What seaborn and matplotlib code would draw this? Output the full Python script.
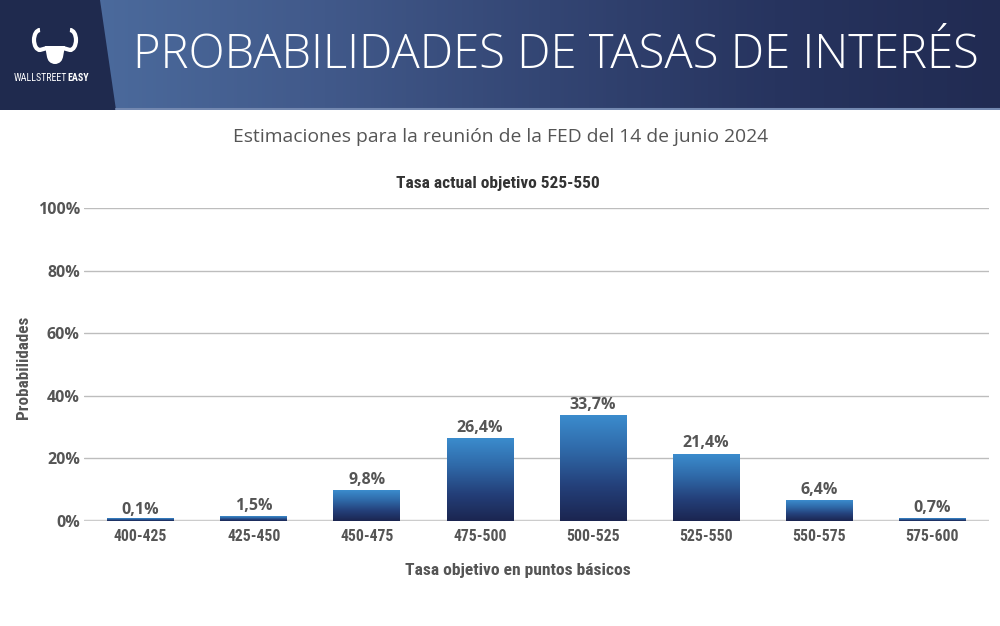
import numpy as np
import pandas as pd
import seaborn as sns
import matplotlib
matplotlib.use("Agg")
import matplotlib.pyplot as plt
from matplotlib import font_manager
from matplotlib.patches import Polygon, Circle, Arc
from matplotlib.colors import LinearSegmentedColormap

# ---- data ----
categories = ["400-425", "425-450", "450-475", "475-500",
              "500-525", "525-550", "550-575", "575-600"]
probabilities = [0.1, 1.5, 9.8, 26.4, 33.7, 21.4, 6.4, 0.7]
value_labels = ["0,1%", "1,5%", "9,8%", "26,4%", "33,7%", "21,4%", "6,4%", "0,7%"]
y_ticks = [0, 20, 40, 60, 80, 100]
y_tick_labels = ["0%", "20%", "40%", "60%", "80%", "100%"]

title = "PROBABILIDADES DE TASAS DE INTERÉS"
subtitle = "Estimaciones para la reunión de la FED del 14 de junio 2024"
chart_title = "Tasa actual objetivo 525-550"
x_label = "Tasa objetivo en puntos básicos"
y_label = "Probabilidades"

df = pd.DataFrame({"rango": categories, "prob": probabilities})

sns.set_theme(style="white")
plt.rcParams["font.family"] = ["Open Sans", "DejaVu Sans"]

# pick a condensed font if available
fl = font_manager.fontManager.ttflist
names = {f.name for f in fl}
cond_stretch = "normal"
cond_name = None
for n in ["Roboto Condensed", "Liberation Sans Narrow", "Open Sans Condensed",
          "Noto Sans Condensed"]:
    if n in names:
        cond_name = n
        break
if cond_name is None:
    cands = [f for f in fl if str(f.stretch) in ("condensed", "semi-condensed")
             and f.name in ("DejaVu Sans", "Noto Sans", "Open Sans", "Roboto")]
    if cands:
        cond_name = cands[0].name
        cond_stretch = "condensed"
    else:
        cond_name = "Roboto"
cond = [cond_name, "DejaVu Sans"]
gotham = ["Open Sans", "DejaVu Sans"]

W, H = 1000, 626
fig = plt.figure(figsize=(W / 100, H / 100), dpi=100)
fig.patch.set_facecolor("white")

# ---- header ----
hdr_h = 110
hax = fig.add_axes([0, 1 - hdr_h / H, 1, hdr_h / H])
hax.set_xlim(0, W)
hax.set_ylim(hdr_h, 0)
hax.axis("off")
hcmap = LinearSegmentedColormap.from_list(
    "hdr", ["#4b6a9c", "#41598a", "#334573", "#27345f", "#212b52"])
grad = np.linspace(0, 1, 256).reshape(1, -1)
hax.imshow(grad, cmap=hcmap, extent=[100, W, hdr_h, 0], aspect="auto", zorder=0)
hax.add_patch(Polygon([[0, 0], [100, 0], [116, hdr_h], [0, hdr_h]],
                      closed=True, facecolor="#1f2a4e", edgecolor="none", zorder=2))
hax.plot([116, W], [hdr_h - 1.5, hdr_h - 1.5], color="#7388b0", lw=1.5, zorder=3)

# logo
hax.add_patch(Circle((55, 56), 8, facecolor="white", edgecolor="none", zorder=4))
hax.add_patch(Polygon([[45, 46], [65, 46], [63, 57], [47, 57]], closed=True,
                      facecolor="white", edgecolor="none", zorder=4))
hax.add_patch(Arc((40, 40), 12, 20, theta1=90, theta2=270, color="white", lw=3, zorder=4))
hax.add_patch(Arc((70, 40), 12, 20, theta1=-90, theta2=90, color="white", lw=3, zorder=4))
hax.plot([40, 47], [50, 48], color="white", lw=3, zorder=4, solid_capstyle="round")
hax.plot([70, 63], [50, 48], color="white", lw=3, zorder=4, solid_capstyle="round")
hax.text(67, 78, "WALLSTREET", color="white", fontsize=7.2, ha="right", va="center",
         family=cond, fontstretch=cond_stretch, zorder=5)
hax.text(67, 78, "EASY", color="white", fontsize=7.2, ha="left", va="center",
         fontweight="bold", family=cond, fontstretch=cond_stretch, zorder=5)

hax.text(556, 56, title, color="white", fontsize=34, ha="center", va="center",
         fontweight="light", family=["Open Sans", "DejaVu Sans"], zorder=5)

# ---- texts outside chart ----
fig.text(501 / W, 1 - 137 / H, subtitle, color="#555555", fontsize=13.9,
         ha="center", va="center", family=gotham)
fig.text(498 / W, 1 - 183 / H, chart_title, color="#333333", fontsize=12.5,
         ha="center", va="center", fontweight="bold", family=cond,
         fontstretch=cond_stretch)

# ---- chart ----
ax_left, ax_right = 84, 989
ax_top, ax_bottom = 208, 521
ax = fig.add_axes([ax_left / W, 1 - ax_bottom / H,
                   (ax_right - ax_left) / W, (ax_bottom - ax_top) / H])
sns.barplot(data=df, x="rango", y="prob", ax=ax, color="#2c5a92",
            width=0.59, saturation=1, zorder=3)

bar_cmap = LinearSegmentedColormap.from_list(
    "bar", ["#1b2550", "#24407a", "#2f69a8", "#3b8ccd"])
vgrad = np.linspace(0, 1, 256).reshape(-1, 1)
for p in ax.patches:
    x0, y0 = p.get_x(), p.get_y()
    w, h = p.get_width(), p.get_height()
    p.set_facecolor("none")
    p.set_edgecolor("none")
    ax.imshow(vgrad, cmap=bar_cmap, origin="lower",
              extent=[x0, x0 + w, y0, y0 + max(h, 0.8)], aspect="auto", zorder=3)
ax.set_xlim(-0.5, len(categories) - 0.5)
ax.set_ylim(0, 100)

ax.bar_label(ax.containers[0], labels=value_labels, padding=2,
             color="#555555", fontsize=11.5, fontweight="bold", family=gotham)

ax.set_yticks(y_ticks)
ax.set_yticklabels(y_tick_labels, color="#555555", fontsize=11.5, fontweight="bold",
                   family=gotham)
ax.yaxis.grid(True, color="#bdbdbd", lw=1, zorder=0)
ax.set_axisbelow(True)
ax.tick_params(axis="y", length=0, pad=3)
ax.tick_params(axis="x", length=0, pad=6)
for lab in ax.get_xticklabels():
    lab.set_color("#555555")
    lab.set_fontsize(11.3)
    lab.set_fontweight("bold")
    lab.set_family(cond)
    lab.set_fontstretch(cond_stretch)
for s in ax.spines.values():
    s.set_visible(False)
ax.axhline(0, color="#cccccc", lw=2.5, zorder=2)

ax.set_xlabel(x_label, color="#555555", fontsize=12.6, fontweight="bold",
              family=cond, fontstretch=cond_stretch)
ax.set_ylabel(y_label, color="#555555", fontsize=12.3, fontweight="bold",
              family=cond, fontstretch=cond_stretch)
ax.yaxis.set_label_coords((24 - ax_left) / (ax_right - ax_left), 0.49)
ax.xaxis.set_label_coords((518 - ax_left) / (ax_right - ax_left),
                          (ax_bottom - 571) / (ax_bottom - ax_top))
ax.xaxis.label.set_va("center")
ax.yaxis.label.set_va("center")
ax.patch.set_alpha(0)

fig.savefig("out.png", dpi=100, facecolor="white")
